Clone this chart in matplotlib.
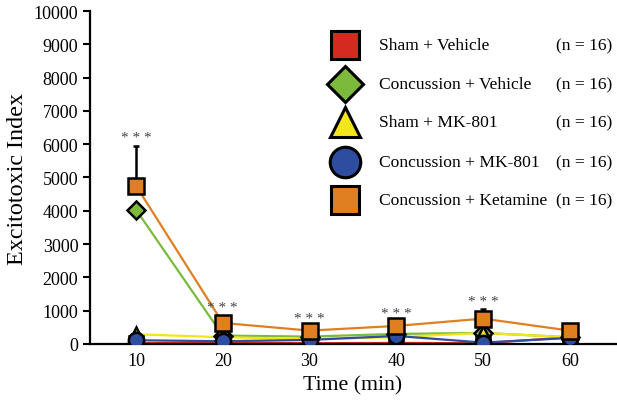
import matplotlib
matplotlib.use("Agg")
import matplotlib.pyplot as plt
from matplotlib.lines import Line2D

plt.rcParams['font.family'] = ['Liberation Serif', 'DejaVu Serif']

times = [10, 20, 30, 40, 50, 60]
sham_vehicle = [20, 40, 20, 30, 20, 200]
conc_vehicle = [4030, 250, 220, 300, 330, 200]
sham_mk801 = [290, 200, 150, 200, 330, 200]
conc_mk801 = [110, 80, 120, 240, 40, 180]
conc_ketamine = [4750, 630, 400, 540, 760, 400]
ketamine_err = [1200, 80, 40, 60, 290, 30]
star_y = [6200, 1100, 750, 920, 1270]
star_x = [10, 20, 30, 40, 50]

labels = ["Sham + Vehicle", "Concussion + Vehicle", "Sham + MK-801",
          "Concussion + MK-801", "Concussion + Ketamine"]
n_labels = ["(n = 16)"] * 5

series = [sham_vehicle, conc_vehicle, sham_mk801, conc_mk801, conc_ketamine]
colors = ["#d42a20", "#7cba3c", "#f2e51c", "#2f4da0", "#e07f22"]
markers = ["s", "D", "^", "o", "s"]
msizes = [10, 9, 10, 11, 11]

fig = plt.figure(figsize=(6.17, 4.02), dpi=100)
ax = fig.add_axes([0.146, 0.142, 0.852, 0.828])

for ys, c in zip(series, colors):
    ax.plot(times, ys, color=c, lw=1.6, zorder=2)
for ys, c, m, ms in zip(series, colors, markers, msizes):
    ax.plot(times, ys, linestyle='none', marker=m, markersize=ms,
            markerfacecolor=c, markeredgecolor='black', markeredgewidth=1.8, zorder=3)

ax.errorbar(times, conc_ketamine, yerr=[[0]*6, ketamine_err], fmt='none',
            ecolor='black', elinewidth=1.8, capsize=2.5, capthick=1.8, zorder=1)

for x, y in zip(star_x, star_y):
    ax.text(x, y, "* * *", ha='center', va='center', fontsize=11, color='#444444')

ax.set_xlim(4.7, 65.3)
ax.set_ylim(0, 10000)
ax.set_xticks(times)
ax.set_yticks(range(0, 10001, 1000))
ax.spines['top'].set_visible(False)
ax.spines['right'].set_visible(False)
ax.spines['left'].set_linewidth(1.6)
ax.spines['bottom'].set_linewidth(1.6)
ax.tick_params(axis='y', direction='out', length=5, width=1.5, labelsize=13)
ax.tick_params(axis='x', direction='out', length=0, width=1.5, labelsize=13, pad=6)
ax.set_xlabel("Time (min)", fontsize=15.7)
ax.set_ylabel("Excitotoxic Index", fontsize=17.4)

# legend
W, H = 617, 402
rows_y = [46, 85, 123, 163, 201]
leg_ms = [20, 18, 21, 22, 20]
for yy, c, m, lab, nl, ms in zip(rows_y, colors, markers, labels, n_labels, leg_ms):
    fy = 1 - yy / H
    fig.add_artist(Line2D([345 / W], [fy], marker=m, markersize=ms, linestyle='none',
                          markerfacecolor=c, markeredgecolor='black', markeredgewidth=2.2))
    fig.text(379 / W, fy, lab, ha='left', va='center', fontsize=12.6)
    fig.text(556 / W, fy, nl, ha='left', va='center', fontsize=12.6)

fig.savefig("out.png", dpi=100)
